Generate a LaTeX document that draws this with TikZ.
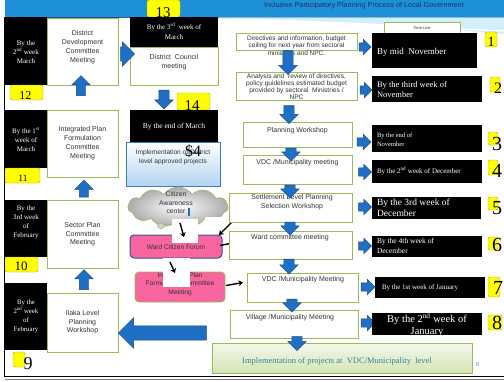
\documentclass[tikz,border=0pt]{standalone}
\usepackage{fontspec}
\setmainfont{Liberation Serif}
\setsansfont{Liberation Sans}
\usetikzlibrary{shapes.arrows,shapes.symbols,shapes.geometric,arrows.meta}
\definecolor{grn}{HTML}{9BBB59}
\definecolor{ablue}{HTML}{1F6FC5}
\definecolor{adark}{HTML}{1A4A85}
\definecolor{pnk}{HTML}{F9659E}
\definecolor{ylw}{HTML}{FFFF00}
\definecolor{yb}{HTML}{A6A63A}
\definecolor{navy}{HTML}{17375E}
\definecolor{tealc}{HTML}{31849B}
\definecolor{txt}{HTML}{333333}
\definecolor{barblue}{HTML}{1E90D8}
\definecolor{implb}{HTML}{3A7FB5}
\definecolor{wcfb}{HTML}{2F5597}
\newcommand{\fsz}[2]{\fontsize{#1}{#2}\selectfont}
\newcommand{\boxat}[7]{\node[#1, minimum width={(#5-#3)*1pt}, minimum height={(#6-#4)*1pt}] (#2) at ({(#3+#5)/2},{(#4+#6)/2}) {#7};}
% horizontal block arrow: name, rotation, x, y, length, half shaft, head extend
\newcommand{\barr}[7]{\node[barrow, shape border rotate=#2, minimum height=#5pt, inner xsep=0pt, inner ysep=#6pt, single arrow head extend=#7pt] (#1) at (#3,#4) {};}
% vertical block arrow
\newcommand{\varr}[7]{\node[barrow, shape border rotate=#2, minimum height=#5pt, inner ysep=0pt, inner xsep=#6pt, single arrow head extend=#7pt] (#1) at (#3,#4) {};}
\tikzset{
 every node/.style={inner sep=0pt, outer sep=0pt},
 blk/.style={fill=black, draw=none},
 wbox/.style={fill=white, draw=grn, line width=0.8pt},
 ybox/.style={fill=ylw, draw=yb, line width=0.4pt, rounded corners=2pt},
 wt/.style={text=white, align=center},
 st/.style={text=txt, align=center},
 num/.style={text=black},
 pbox/.style={fill=pnk, rounded corners=4pt},
 barrow/.style={single arrow, fill=ablue, draw=adark, line width=0.4pt},
 karrow/.style={-{Stealth[length=4.5pt,width=6pt]}, line width=1.4pt, black},
}
\begin{document}
\begin{tikzpicture}[x=1pt,y=-1pt]
\useasboundingbox (0,0) rectangle (504,381);
\fill[white] (0,0) rectangle (504,381);
% title band
\fill[barblue] (5,0) rectangle (504,17);
\draw[line width=0.6pt, adark] (5,17) -- (504,17);
\fill[cyan!18] (120,17.3) .. controls (300,19) and (420,26) .. (504,34) -- (504,17.3) -- cycle;
\draw[white, line width=1.2pt] (230,19) .. controls (330,21) and (420,27) .. (504,31);
\node[font=\sffamily\fsz{7.3}{8}, text=navy] (title) at (364,6) {Inclusive Participatory Planning Process of Local Government};
% frame
\draw[line width=1.2pt] (4.5,17) -- (4.5,376.5) -- (504,376.5);
\draw[gray, line width=0.6pt] (4.5,379.5) -- (504,379.5);

% ---------- left column ----------
\boxat{blk}{l1}{5}{17}{47}{85}{}
\node[wt, font=\rmfamily\fsz{7}{9}] (l1t) at (26,52) {By the\\2\textsuperscript{nd} week\\March};
\boxat{wbox}{w1}{47}{18}{118}{85}{}
\node[st, font=\sffamily\fsz{7}{9}] (w1t) at (82.5,47.5) {District\\Development\\Committee\\Meeting};
\boxat{ybox}{y12b}{10}{85}{43}{100}{}
\node[num, font=\rmfamily\fsz{12}{12}] (n12) at (25.5,96) {12};

\boxat{blk}{l2}{5}{110}{47}{168}{}
\node[wt, font=\rmfamily\fsz{7}{9}] (l2t) at (26,140) {By the 1\textsuperscript{st}\\week of\\March};
\boxat{wbox}{w2}{47}{110}{118}{177}{}
\node[st, font=\sffamily\fsz{7}{8.8}] (w2t) at (82.5,143) {Integrated Plan\\Formulation\\Committee\\Meeting};
\boxat{ybox}{y11b}{5}{168}{40}{183}{}
\node[num, font=\rmfamily\fsz{9.5}{10}] (n11) at (23,178) {11};

\boxat{blk}{l3}{5}{200}{47}{257}{}
\node[wt, font=\rmfamily\fsz{7}{9}] (l3t) at (26,222.5) {By the\\3rd week\\of\\February};
\boxat{wbox}{w3}{47}{200}{118}{268}{}
\node[st, font=\sffamily\fsz{7}{8.6}] (w3t) at (82.5,234.5) {Sector Plan\\Committee\\Meeting};
\boxat{ybox}{y10b}{5}{257}{38}{272}{}
\node[num, font=\rmfamily\fsz{13}{13}] (n10) at (21,266) {10};

\boxat{blk}{l4}{5}{283}{47}{350}{}
\node[wt, font=\rmfamily\fsz{6.8}{9}] (l4t) at (26,316.5) {By the\\2\textsuperscript{nd} week\\of\\February};
\boxat{wbox}{w4}{47}{293}{118}{352}{}
\node[st, font=\sffamily\fsz{7}{8.6}] (w4t) at (82.5,322.5) {Ilaka Level\\Planning\\Workshop};
\boxat{ybox}{y9b}{13}{352}{25}{367}{}
\node[num, font=\rmfamily\fsz{18}{18}] (n9) at (28,364) {9};

\varr{u1}{90}{81}{88}{20}{4.5}{4.5}
\varr{u2}{90}{84}{191}{17}{4.5}{4.5}
\varr{u3}{90}{84}{282}{20}{4.5}{4.5}

% ---------- column 2 ----------
\boxat{ybox}{y13b}{147}{0}{180}{17}{}
\node[num, font=\rmfamily\fsz{15}{15}] (n13) at (163,13) {13};
\boxat{blk}{c13}{130}{17}{218}{47}{}
\node[wt, font=\rmfamily\fsz{7}{10}] (c13t) at (174,31) {By the 3\textsuperscript{rd}\ \ week of\\March};
\boxat{wbox}{c13w}{130}{47}{218}{85}{}
\node[st, font=\sffamily\fsz{7}{8.5}] (c13wt) at (174,62) {District\ \ Council\\meeting};
\barr{ddc}{0}{124}{54}{14}{7}{5}
\varr{cdown}{270}{164}{97}{19}{5}{4}
\boxat{ybox}{y14b}{177}{93}{210}{110}{}
\node[num, font=\rmfamily\fsz{15}{15}] (n14) at (192,106) {14};
\boxat{blk}{c14}{130}{110}{218}{143}{}
\node[wt, font=\rmfamily\fsz{7.5}{9}] (c14t) at (174,127) {By the end of March};

\boxat{draw=implb, line width=0.8pt, top color=white, bottom color={rgb,255:red,178;green,212;blue,243}}{impl}{126}{142}{220}{186}{}
\node[st, font=\sffamily\fsz{6.6}{8.5}] (implt) at (173,157.5) {Implementation of District\\level approved projects};
\node[num, font=\rmfamily\fsz{16}{16}] (dol) at (193,151) {\$4};

\node[cloud, cloud puffs=11, cloud puff arc=110, aspect=2.6, minimum width=100pt, minimum height=40pt, draw=grn, line width=0.6pt, inner color=white, outer color=gray!65] (cloud) at (178,207) {};
\node[st, font=\sffamily\fsz{6.8}{8.5}] (cloudt) at (176,203) {Citizen\\Awareness\\center};
\fill[ablue] (188,208) rectangle (190,216);
\draw[grn, fill=gray!35, line width=0.5pt] (161,226) ellipse (3.5 and 2.5);

\boxat{pbox, draw=wcfb, line width=1pt}{wcf}{130}{235}{222}{258}{}
\node[st, font=\sffamily\fsz{6.6}{8}] (wcft) at (176,247.5) {Ward Citizen Forum};
\boxat{pbox, draw=grn, line width=0.9pt}{ipf}{135}{272}{225}{302}{}
\node[st, font=\sffamily\fsz{6.6}{8.3}] (ipft) at (180,284) {Integrated Plan\\Formulation Committee\\Meeting};

\fill[white] (172,219) rectangle (198,243);
\fill[white] (205,217) rectangle (235,234);
\fill[white] (163,258) rectangle (190,287);
\coordinate (k1s) at (180,223); \coordinate (k1e) at (184,237);
\coordinate (k2s) at (232,222); \coordinate (k2e) at (219,235);
\coordinate (k3s) at (220,245.5); \coordinate (k3e) at (230,243.5);
\coordinate (k4s) at (170,262); \coordinate (k4e) at (175,273);
\coordinate (k5s) at (226,285.5); \coordinate (k5e) at (243,282.5);
\draw[karrow] (k1s) -- (k1e);
\draw[karrow] (k2s) -- (k2e);
\draw[line width=1.4pt] (k3s) -- (k3e);
\draw[karrow] (k4s) -- (k4e);
\draw[karrow] (k5s) -- (k5e);

\barr{big}{180}{166}{333}{88}{7}{8}

% ---------- process column ----------
\boxat{wbox}{p1}{236}{33}{357}{50}{}
\node[st, font=\sffamily\fsz{6.5}{7.3}] (p1t) at (296.5,45.5) {Directives and information, budget\\ceiling for next year from sectoral\\ministries and NPC.};
\boxat{wbox}{p2}{236}{72}{357}{100}{}
\node[st, font=\sffamily\fsz{6.6}{7}] (p2t) at (296.5,86.5) {Analysis and\ \ review of directives,\\policy guidelines estimated budget\\provided by sectoral\ \ Ministries /\\NPC};
\boxat{wbox}{p3}{243}{122}{352}{147}{}
\node[st, font=\sffamily\fsz{7}{8}] (p3t) at (297.5,130.5) {Planning Workshop};
\boxat{wbox}{p4}{243}{155}{352}{184}{}
\node[st, font=\sffamily\fsz{7}{8}] (p4t) at (297.5,162.5) {VDC /Municipality meeting};
\boxat{wbox}{p5}{229}{193}{352}{222}{}
\node[st, font=\sffamily\fsz{7}{9}] (p5t) at (292,202.5) {Settlement Level Planning\\Selection Workshop};
\boxat{wbox}{p6}{229}{231}{352}{259}{}
\node[st, font=\sffamily\fsz{7}{8}] (p6t) at (290,237.5) {Ward committee meeting};
\boxat{wbox}{p7}{247}{273}{358}{302}{}
\node[st, font=\sffamily\fsz{7}{8}] (p7t) at (303,280) {VDC /Municipality Meeting};
\boxat{wbox}{p8}{230}{310}{358}{338}{}
\node[st, font=\sffamily\fsz{7}{8}] (p8t) at (290,318) {Village /Municipality Meeting};
\boxat{draw=grn, line width=0.8pt, top color={rgb,255:red,243;green,248;blue,234}, bottom color={rgb,255:red,213;green,228;blue,181}}{p9}{212}{343}{472}{373}{}
\node[font=\rmfamily\fsz{8.5}{9}, text=tealc] (p9t) at (337,361) {Implementation of projects at\ \ VDC/Municipality\ \ level};
\node[font=\rmfamily\fsz{6}{6}, text=tealc] (pg) at (477.5,364.5) {8};

\varr{a1}{270}{288}{60}{24}{5}{4}
\varr{a2}{270}{289}{112}{18}{5}{4}
\varr{a3}{270}{291}{152}{13}{5}{4}
\varr{a4}{270}{290}{189}{13}{5}{4}
\varr{a5}{270}{290}{226}{13}{5}{4}
\varr{a6}{270}{289}{264}{15}{5}{4}
\varr{a7}{270}{292}{303}{13}{5}{4}
\varr{a8}{270}{297}{341}{14}{5}{4}

% ---------- right column ----------
\boxat{wbox, line width=0.6pt}{tl}{384}{22}{460}{35}{}
\node[font=\sffamily\fsz{4}{5}, text=txt] (tlt) at (422,28.5) {Time Line};

\barr{r1}{0}{363}{47}{12}{4}{3.5}
\barr{r2}{0}{364}{90}{12}{4}{3.5}
\barr{r3}{0}{362}{142}{14}{4}{3.5}
\barr{r4}{0}{363}{172}{13}{4}{3.5}
\barr{r5}{0}{363}{207}{13}{4}{3.5}
\barr{r6}{0}{363}{246}{13}{4}{3.5}
\barr{r7}{0}{366}{287}{14}{4}{3.5}
\barr{r8}{0}{366}{323}{14}{4}{3.5}

\boxat{blk}{d1}{372}{33}{477}{68}{}
\node[wt, font=\rmfamily\fsz{9}{10}, anchor=west, align=left] (d1t) at (377,52) {By mid\ \ November};
\boxat{blk}{d2}{372}{76}{482}{102}{}
\node[wt, font=\rmfamily\fsz{8.5}{10}, anchor=west, align=left] (d2t) at (377,89.5) {By the third week of\\November};
\boxat{blk}{d3}{372}{125}{482}{152}{}
\node[wt, font=\rmfamily\fsz{6.5}{9}, anchor=west, align=left] (d3t) at (377,140) {By the end of\\November};
\boxat{blk}{d4}{372}{160}{482}{183}{}
\node[wt, font=\rmfamily\fsz{7}{8}, anchor=west, align=left] (d4t) at (377,171.5) {By the 2\textsuperscript{nd} week of December};
\boxat{blk}{d5}{372}{197}{481}{219}{}
\node[wt, font=\rmfamily\fsz{9.5}{11}, anchor=west, align=left] (d5t) at (377,207.5) {By the 3rd week of\\December};
\boxat{blk}{d6}{372}{236}{482}{257}{}
\node[wt, font=\rmfamily\fsz{7.5}{10}, anchor=west, align=left] (d6t) at (377,245.5) {By the 4th week of\\December};
\boxat{blk}{d7}{375}{277}{485}{298}{}
\node[wt, font=\rmfamily\fsz{7}{8}, anchor=west, align=left] (d7t) at (382,288) {By the 1st week of January};
\boxat{blk}{d8}{372}{313}{482}{335}{}
\node[wt, font=\rmfamily\fsz{10.5}{12}] (d8t) at (427,325) {By the 2\textsuperscript{nd} week of\\January};

\boxat{ybox}{y1b}{485}{32}{497}{47}{}
\node[num, font=\rmfamily\fsz{14}{14}] (n1) at (491,42) {1};
\boxat{ybox}{y2b}{490}{77}{500}{92}{}
\node[num, font=\rmfamily\fsz{16}{16}] (n2) at (498,88) {2};
\boxat{ybox}{y3b}{488}{132}{498}{145}{}
\node[num, font=\rmfamily\fsz{20}{20}] (n3) at (497,144) {3};
\boxat{ybox}{y4b}{488}{160}{498}{175}{}
\node[num, font=\rmfamily\fsz{20}{20}] (n4) at (497,171) {4};
\boxat{ybox}{y5b}{488}{197}{498}{210}{}
\node[num, font=\rmfamily\fsz{20}{20}] (n5) at (497,208) {5};
\boxat{ybox}{y6b}{488}{237}{498}{250}{}
\node[num, font=\rmfamily\fsz{20}{20}] (n6) at (497,245) {6};
\boxat{ybox}{y7b}{488}{277}{500}{297}{}
\node[num, font=\rmfamily\fsz{20}{20}] (n7) at (498,288) {7};
\boxat{ybox}{y8b}{488}{315}{502}{330}{}
\node[num, font=\rmfamily\fsz{20}{20}] (n8) at (497,323) {8};
\end{tikzpicture}
\end{document}
